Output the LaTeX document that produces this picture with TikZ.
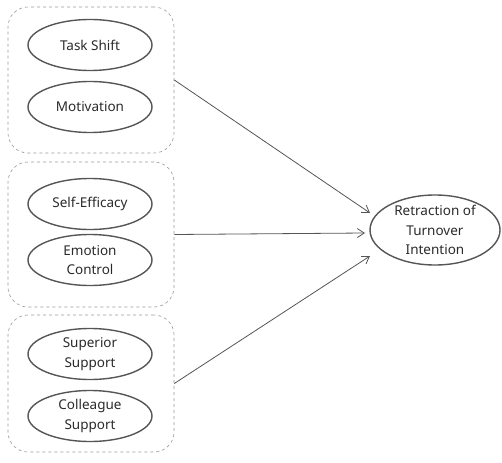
\documentclass[tikz,border=0pt]{standalone}
\usepackage{fontspec}
\setmainfont{Noto Sans}
\usetikzlibrary{shapes.geometric}
\usetikzlibrary{arrows.meta}

\definecolor{linegray}{HTML}{555555}
\definecolor{boxgray}{HTML}{999999}
\definecolor{textgray}{HTML}{2a2a2a}

\begin{document}
\begin{tikzpicture}[x=1pt,y=-1pt,
    factor/.style={ellipse, draw=linegray, line width=1.4pt, text=textgray,
        minimum width=124pt, minimum height=51pt, inner sep=0pt, align=center,
        font=\fontsize{13.5}{19.5}\selectfont},
    group/.style={draw=boxgray, dashed, rounded corners=20pt, line width=0.6pt,
        minimum width=166pt},
    link/.style={-{Straight Barb[length=7pt,width=9pt]}, linegray, line width=0.8pt}]
    \useasboundingbox (0,0) rectangle (502,462);

    % groups
    \node[group, minimum height=146pt] (g1) at (91,80) {};
    \node[group, minimum height=145pt] (g2) at (91,234.5) {};
    \node[group, minimum height=137pt] (g3) at (91,383.5) {};

    % factors
    \node[factor] (shift) at (90,45) {Task Shift};
    \node[factor] (motiv) at (90,107) {Motivation};
    \node[factor] (effic) at (90,204) {Self-Efficacy};
    \node[factor] (emot) at (90,260) {Emotion\\Control};
    \node[factor] (super) at (90,354) {Superior\\Support};
    \node[factor] (colle) at (90,416) {Colleague\\Support};

    % outcome
    \node[factor, minimum width=130pt, minimum height=70pt] (ret) at (435,230)
        {Retraction of\\Turnover\\Intention};

    \coordinate (in1) at (370,213);
    \coordinate (in2) at (365,233);
    \coordinate (in3) at (370,256);

    \draw[link] (g1.east) -- (in1);
    \draw[link] (g2.east) -- (in2);
    \draw[link] (g3.east) -- (in3);
\end{tikzpicture}
\end{document}
